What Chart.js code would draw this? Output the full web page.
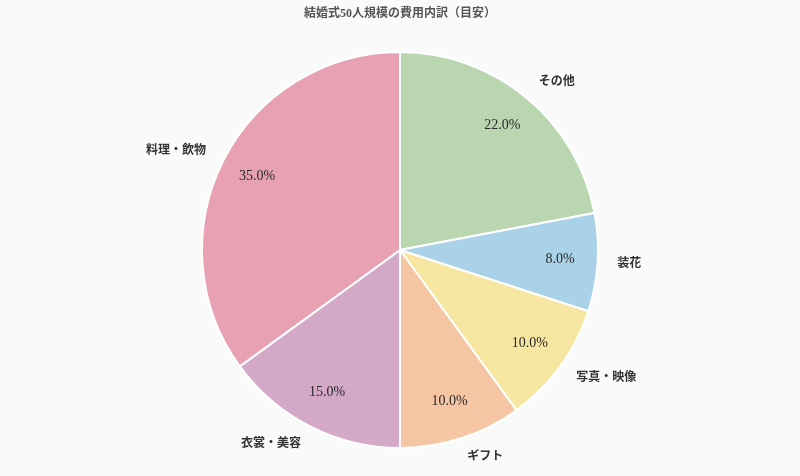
<!DOCTYPE html>
<html lang="ja">
<head>
<meta charset="utf-8">
<title>結婚式50人規模の費用内訳（目安）</title>
<script src="https://cdn.jsdelivr.net/npm/chart.js@4"></script>
<style>
  html,body{margin:0;padding:0;background:#fafafa;}
  #wrap{width:800px;height:476px;}
</style>
</head>
<body>
<div id="wrap"><canvas id="pie"></canvas></div>
<script>
const categories = ["その他","装花","写真・映像","ギフト","衣裳・美容","料理・飲物"];
const shares = [22, 8, 10, 10, 15, 35];
const colors = ["#b9d6b0","#a9d1e7","#f7e6a1","#f5c5a4","#d4a8c7","#e8a1b3"];

const serif = "'Liberation Serif','DejaVu Serif','Noto Sans CJK JP',serif";

// labels outside (left/right aligned like a classic pie) and percentages inside
const sliceText = {
  id: "sliceText",
  afterDatasetsDraw(chart){
    const ctx = chart.ctx;
    const total = shares.reduce((a,b)=>a+b,0);
    chart.getDatasetMeta(0).data.forEach((arc,i)=>{
      const mid = (arc.startAngle+arc.endAngle)/2;
      const r = arc.outerRadius;
      const cx = Math.cos(mid), cy = Math.sin(mid);
      ctx.save();
      ctx.textBaseline = "middle";
      ctx.fillStyle = "#333";
      ctx.font = "bold 12px " + serif;
      ctx.textAlign = cx >= 0 ? "left" : "right";
      ctx.fillText(categories[i], arc.x + cx*r*1.1, arc.y + cy*r*1.1);
      ctx.fillStyle = "#2a2a2a";
      ctx.font = "14px " + serif;
      ctx.textAlign = "center";
      ctx.fillText((shares[i]/total*100).toFixed(1)+"%", arc.x + cx*r*0.81, arc.y + cy*r*0.81 - 1);
      ctx.restore();
    });
  }
};

new Chart(document.getElementById("pie"),{
  type:"pie",
  data:{labels:categories,
    datasets:[{data:shares,backgroundColor:colors,borderColor:"#ffffff",borderWidth:2}]},
  options:{
    responsive:true,maintainAspectRatio:false,animation:false,
    layout:{padding:{top:0,bottom:27,left:0,right:0}},
    plugins:{
      legend:{display:false},
      tooltip:{enabled:false},
      title:{display:true,text:"結婚式50人規模の費用内訳（目安）",color:"#555",
        font:{family:serif,size:12,weight:"bold"},padding:{top:7,bottom:29.6}}
    }
  },
  plugins:[sliceText]
});
</script>
</body>
</html>
